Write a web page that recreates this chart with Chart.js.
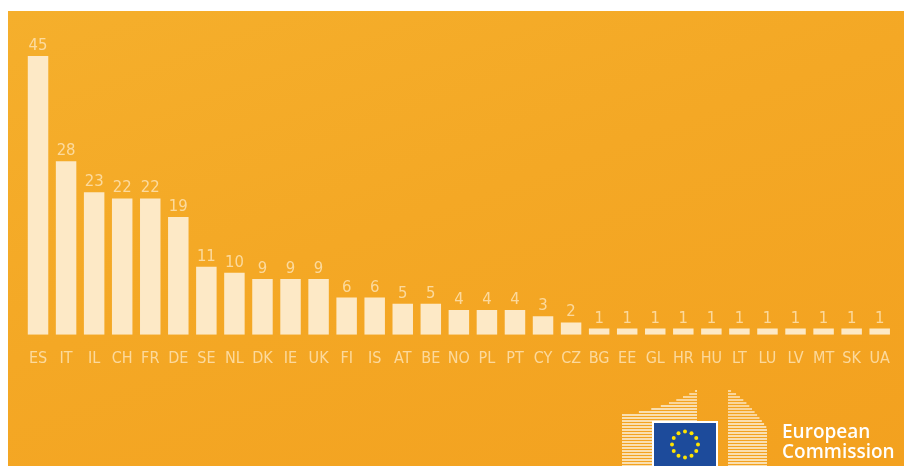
<!DOCTYPE html>
<html>
<head>
<meta charset="utf-8">
<script src="https://cdn.jsdelivr.net/npm/chart.js@4"></script>
<style>
  html, body { margin: 0; padding: 0; background: #ffffff; }
  body { width: 904px; height: 466px; position: relative; overflow: hidden; }
  #panel {
    position: absolute; left: 8px; top: 11px; width: 896px; height: 455px;
    background: linear-gradient(160deg, #f5af2c 0%, #f4a825 45%, #f3a11f 100%);
  }
  #chartBox { position: absolute; left: 0; top: 0; width: 896px; height: 455px; }
  #logo { position: absolute; left: 612px; top: 380px; width: 180px; height: 86px; }
  #ecText {
    position: absolute; left: 782px; top: 421px; color: #ffffff;
    font-family: "Open Sans", sans-serif; font-weight: 600; font-size: 19px; line-height: 20px;
  }
</style>
</head>
<body>
<div id="panel">
  <div id="chartBox"><canvas id="chart"></canvas></div>
</div>
<svg id="logo" viewBox="0 0 180 86" xmlns="http://www.w3.org/2000/svg">
  <g id="leftB" stroke="#fdf3e0" stroke-width="1.3" fill="none"></g>
  <g id="rightB" stroke="#fdf3e0" stroke-width="1.3" fill="none"></g>
  <rect x="40" y="41" width="66" height="46" fill="#ffffff"/>
  <rect x="42" y="43" width="62" height="43" fill="#1d4b9b"/>
  <g id="stars" fill="#ffe400"></g>
</svg>
<div id="ecText">European<br>Commission</div>

<script>
// participants per country
const countries = ['ES', 'IT', 'IL', 'CH', 'FR', 'DE', 'SE', 'NL', 'DK', 'IE', 'UK', 'FI', 'IS', 'AT', 'BE',
                   'NO', 'PL', 'PT', 'CY', 'CZ', 'BG', 'EE', 'GL', 'HR', 'HU', 'LT', 'LU', 'LV', 'MT', 'SK', 'UA'];
const counts = [45, 28, 23, 22, 22, 19, 11, 10, 9, 9, 9, 6, 6, 5, 5,
                4, 4, 4, 3, 2, 1, 1, 1, 1, 1, 1, 1, 1, 1, 1, 1];

const barColor = '#fde9c6';
const labelColor = 'rgba(254, 230, 186, 0.8)';
const fontFamily = '"DejaVu Sans Condensed", "Roboto", sans-serif';

// logo drawing (decoration only)
function buildLogo() {
  const ns = 'http://www.w3.org/2000/svg';
  const left = document.getElementById('leftB');
  for (let y = 86; y > 10; y -= 3) {
    let xs = 10;
    if (y < 34) {
      xs = 10 + Math.pow((34 - y) / 24, 0.6) * 75;
    }
    const ln = document.createElementNS(ns, 'line');
    ln.setAttribute('x1', xs); ln.setAttribute('y1', y);
    ln.setAttribute('x2', 85); ln.setAttribute('y2', y);
    if (xs < 85) left.appendChild(ln);
  }
  const right = document.getElementById('rightB');
  for (let y = 86; y > 10; y -= 3) {
    let xe = 155;
    if (y < 48) {
      xe = 116 + Math.pow((y - 10) / 38, 0.7) * 39;
    }
    const ln = document.createElementNS(ns, 'line');
    ln.setAttribute('x1', 116); ln.setAttribute('y1', y);
    ln.setAttribute('x2', xe); ln.setAttribute('y2', y);
    right.appendChild(ln);
  }
  const stars = document.getElementById('stars');
  for (let i = 0; i < 12; i++) {
    const a = i * Math.PI / 6;
    const c = document.createElementNS(ns, 'circle');
    c.setAttribute('cx', 73 + 13 * Math.sin(a));
    c.setAttribute('cy', 64.5 - 13 * Math.cos(a));
    c.setAttribute('r', 2);
    stars.appendChild(c);
  }
}
buildLogo();

// draws the number above each bar
const valueLabels = {
  id: 'valueLabels',
  afterDatasetsDraw(chart) {
    const ctx = chart.ctx;
    const meta = chart.getDatasetMeta(0);
    ctx.save();
    ctx.fillStyle = labelColor;
    ctx.font = '16.5px ' + fontFamily;
    ctx.textAlign = 'center';
    ctx.textBaseline = 'alphabetic';
    meta.data.forEach((bar, i) => {
      ctx.fillText(chart.data.datasets[0].data[i], bar.x, bar.y - 6);
    });
    ctx.restore();
  }
};

const ctx = document.getElementById('chart').getContext('2d');
const chart = new Chart(ctx, {
  type: 'bar',
  data: {
    labels: countries,
    datasets: [{
      data: counts,
      backgroundColor: barColor,
      borderWidth: 0,
      barPercentage: 0.73,
      categoryPercentage: 1.0
    }]
  },
  options: {
    responsive: true,
    maintainAspectRatio: false,
    animation: false,
    layout: { padding: { left: 16, right: 7, top: 14, bottom: 84 } },
    scales: {
      y: { display: false, min: 0, max: 50 },
      x: {
        grid: { display: false, drawTicks: false },
        border: { display: false },
        ticks: {
          color: labelColor,
          padding: 14,
          maxRotation: 0,
          autoSkip: false,
          font: { family: fontFamily, size: 16 }
        }
      }
    },
    plugins: {
      legend: { display: false },
      tooltip: { enabled: false }
    }
  },
  plugins: [valueLabels]
});
</script>
</body>
</html>
